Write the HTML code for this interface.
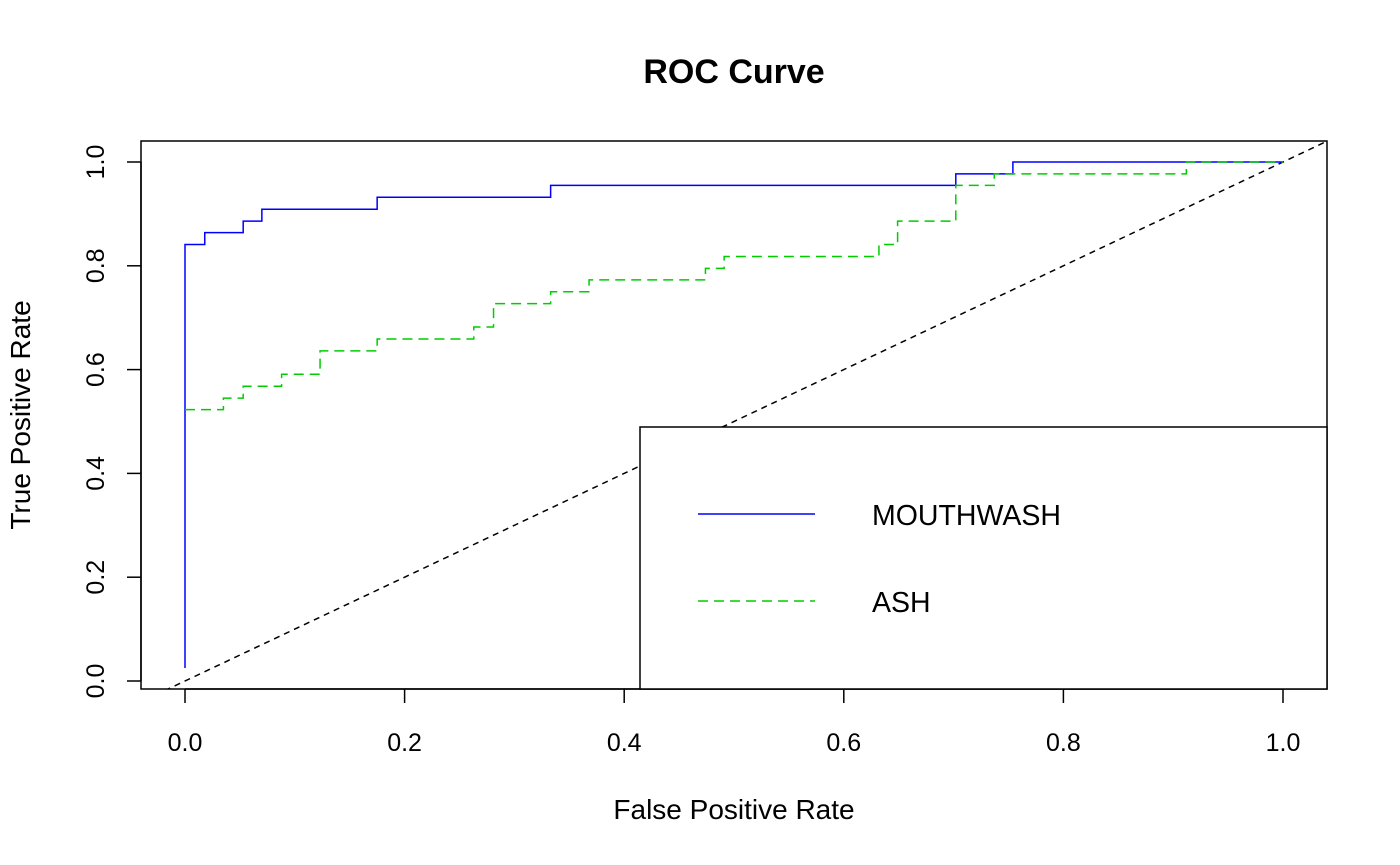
<!DOCTYPE html>
<html><head><meta charset="utf-8"><style>body{margin:0;background:#fff}svg{display:block;font-family:"Liberation Sans",sans-serif}</style></head>
<body>
<svg id="c" width="1400" height="865">
<text x="734" y="83" font-size="34" font-weight="bold" text-anchor="middle">ROC Curve</text>
<text x="734" y="819" font-size="28" text-anchor="middle">False Positive Rate</text>
<text transform="translate(30,415) rotate(-90)" font-size="28" text-anchor="middle">True Positive Rate</text>
<defs><clipPath id="pc"><rect x="141" y="141" width="1186" height="548"/></clipPath></defs>
<g id="axes"></g>
<g id="marks" clip-path="url(#pc)"></g>
<rect x="141" y="141" width="1186" height="548" fill="none" stroke="#000" stroke-width="1.5"/>
<g>
<rect x="640" y="427" width="687" height="262" fill="#fff" stroke="#000" stroke-width="1.5"/>
<line x1="698" y1="514" x2="815" y2="514" stroke="#0000ff" stroke-width="1.5"/>
<text x="872" y="525" font-size="28.5">MOUTHWASH</text>
<line x1="698" y1="601" x2="815" y2="601" stroke="#00cd00" stroke-width="1.5" stroke-dasharray="10,6"/>
<text x="872" y="612" font-size="28.5">ASH</text>
</g>
</svg>
<script>
const ticks=[0,0.2,0.4,0.6,0.8,1.0];
const tickLabels=["0.0","0.2","0.4","0.6","0.8","1.0"];
const mwFpr=[0,0,0.018,0.053,0.07,0.175,0.333,0.702,0.754,1.0];
const mwTpr=[0.025,0.841,0.864,0.886,0.909,0.932,0.955,0.977,1.0,1.0];
const ashFpr=[0,0.035,0.053,0.088,0.123,0.175,0.263,0.281,0.333,0.368,0.474,0.491,0.632,0.649,0.702,0.737,0.912,1.0];
const ashTpr=[0.523,0.545,0.568,0.591,0.636,0.659,0.682,0.727,0.75,0.773,0.795,0.818,0.841,0.886,0.955,0.977,1.0,1.0];
const NS="http://www.w3.org/2000/svg";
const X=v=>185+v*1098, Y=v=>681-v*519;
const axes=document.getElementById('axes'), marks=document.getElementById('marks');
function mk(t,a,p){const e=document.createElementNS(NS,t);for(const k in a)e.setAttribute(k,a[k]);p.appendChild(e);return e;}
mk('line',{x1:X(0),x2:X(1),y1:689,y2:689,stroke:'#000','stroke-width':1.5},axes);
mk('line',{x1:141,x2:141,y1:Y(0),y2:Y(1),stroke:'#000','stroke-width':1.5},axes);
ticks.forEach((t,i)=>{
 const a=mk('line',{x1:X(t),x2:X(t),y1:689,y2:703,stroke:'#000','stroke-width':1.5},axes);
 
 
 const l=mk('text',{x:X(t),y:751,'font-size':25,'text-anchor':'middle'},axes);l.textContent=tickLabels[i];
 
 
 const b=mk('line',{x1:127,x2:141,y1:Y(t),y2:Y(t),stroke:'#000','stroke-width':1.5},axes);
 
 
 const m=mk('text',{transform:`translate(104,${Y(t)}) rotate(-90)`,'font-size':25,'text-anchor':'middle'},axes);m.textContent=tickLabels[i];
 
 
});
const d=mk('line',{x1:X(-0.1),y1:Y(-0.1),x2:X(1.1),y2:Y(1.1),stroke:'#000','stroke-width':1.5,'stroke-dasharray':'6,5'},marks);


function step(fx,ty){let s=`M${X(fx[0])},${Y(ty[0])}`;for(let i=1;i<fx.length;i++){s+=` H${X(fx[i])} V${Y(ty[i])}`;}return s;}
const p1=mk('path',{d:step(mwFpr,mwTpr),fill:'none',stroke:'#0000ff','stroke-width':1.5},marks);


const p2=mk('path',{d:step(ashFpr,ashTpr),fill:'none',stroke:'#00cd00','stroke-width':1.5,'stroke-dasharray':'10,6'},marks);


</script>
</body></html>
